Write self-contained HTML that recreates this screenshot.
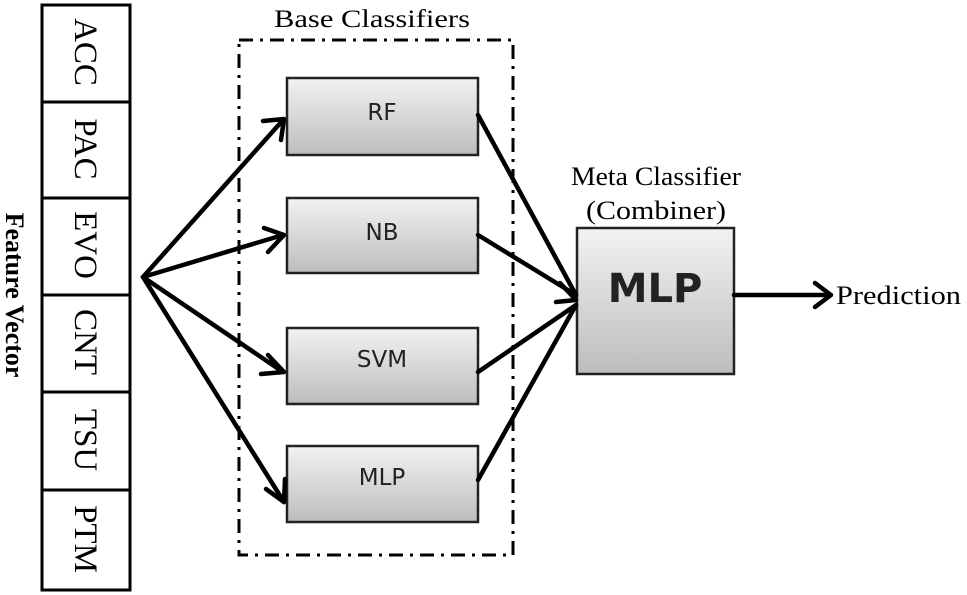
<!DOCTYPE html>
<html><head><meta charset="utf-8"><style>
body{margin:0;background:#fff;}
svg{display:block}
</style></head><body>
<svg width="967" height="595" viewBox="0 0 967 595" xmlns="http://www.w3.org/2000/svg">
<defs>
<linearGradient id="g" x1="0" y1="0" x2="0" y2="1">
<stop offset="0" stop-color="#f2f2f2"/><stop offset="1" stop-color="#bdbdbd"/>
</linearGradient>
</defs>
<rect x="42" y="5" width="88" height="585" fill="#fff" stroke="#000" stroke-width="3"/>
<g stroke="#000" stroke-width="3">
<line x1="42" y1="102" x2="130" y2="102"/><line x1="42" y1="198" x2="130" y2="198"/>
<line x1="42" y1="295" x2="130" y2="295"/><line x1="42" y1="392" x2="130" y2="392"/>
<line x1="42" y1="490" x2="130" y2="490"/>
</g>
<g font-family="Liberation Serif, serif" font-size="33" text-anchor="middle">
<text transform="translate(86,52) rotate(90)" dy="11">ACC</text>
<text transform="translate(86,149) rotate(90)" dy="11">PAC</text>
<text transform="translate(86,245) rotate(90)" dy="11">EVO</text>
<text transform="translate(86,342) rotate(90)" dy="11">CNT</text>
<text transform="translate(86,440) rotate(90)" dy="11">TSU</text>
<text transform="translate(86,539) rotate(90)" dy="11">PTM</text>
<text transform="translate(15,295) rotate(90)" dy="9" font-weight="bold" font-size="26">Feature Vector</text>
</g>
<rect x="239" y="40" width="274" height="515" fill="none" stroke="#000" stroke-width="3" stroke-dasharray="14,7,3,7"/>
<text x="372" y="27" font-family="Liberation Serif, serif" font-size="25" text-anchor="middle" textLength="196" lengthAdjust="spacingAndGlyphs">Base Classifiers</text>
<g stroke="#222" stroke-width="2.5" fill="url(#g)">
<rect x="287" y="78" width="191" height="77"/>
<rect x="287" y="198" width="191" height="75"/>
<rect x="287" y="328" width="191" height="76"/>
<rect x="287" y="446" width="191" height="76"/>
<rect x="577" y="228" width="157" height="146"/>
</g>
<g font-family="DejaVu Sans, sans-serif" font-size="23" text-anchor="middle" fill="#222">
<text x="382" y="120">RF</text><text x="382" y="240">NB</text>
<text x="382" y="367">SVM</text><text x="382" y="485">MLP</text>
<text x="655" y="302" font-size="40" font-weight="bold">MLP</text>
</g>
<g font-family="Liberation Serif, serif" font-size="26" text-anchor="middle">
<text x="656" y="185" textLength="170" lengthAdjust="spacingAndGlyphs">Meta Classifier</text>
<text x="656" y="219" textLength="140" lengthAdjust="spacingAndGlyphs">(Combiner)</text>
<text x="836" y="304" text-anchor="start" textLength="125" lengthAdjust="spacingAndGlyphs">Prediction</text>
</g>
<g stroke="#000" stroke-width="4.5" fill="none" stroke-linecap="round" stroke-linejoin="round">
<line x1="143" y1="277" x2="283" y2="120"/>
<line x1="143" y1="277" x2="283" y2="235"/>
<line x1="143" y1="277" x2="283" y2="372"/>
<line x1="143" y1="277" x2="284" y2="502"/>
<polyline points="263,121 284,119 281,140"/>
<polyline points="264,228 284,235 268,252"/>
<polyline points="268,355 284,372 261,374"/>
<polyline points="266,489 284,502 285,479"/>
<line x1="478" y1="115" x2="576" y2="295"/>
<line x1="478" y1="235" x2="576" y2="295"/>
<line x1="478" y1="372" x2="576" y2="305"/>
<line x1="478" y1="480" x2="576" y2="305"/>
<polyline points="560,283 576,300 556,302"/>
<line x1="734" y1="295" x2="830" y2="295"/>
<polyline points="815,283 831,295 815,307"/>
</g>
</svg>
</body></html>
